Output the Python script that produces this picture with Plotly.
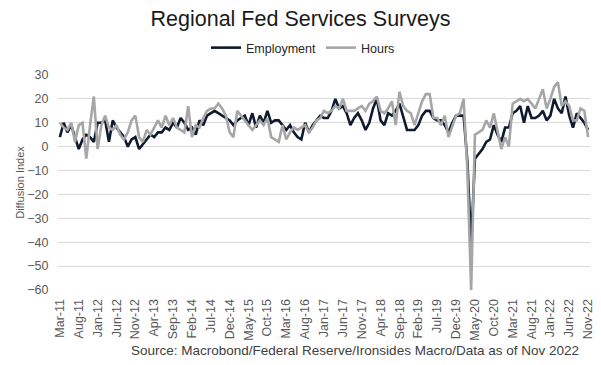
import plotly.graph_objects as go

months = []
mnames = ["Jan", "Feb", "Mar", "Apr", "May", "Jun", "Jul", "Aug", "Sep", "Oct", "Nov", "Dec"]
for k in range(141):
    m = (2 + k) % 12
    y = 11 + (2 + k) // 12
    months.append(f"{mnames[m]}-{y:02d}")

employment = [4, 10, 6, 9, 4, -1, 3, 5, 4, 2,
              10, 10, 11, 2, 11, 8, 6, 4, 0, 3,
              4, -1, 1, 3, 5, 4, 6, 6, 8, 7,
              10, 8, 12, 10, 7, 8, 5, 11, 9, 13,
              14, 15, 14, 13, 12, 11, 9, 11, 12, 13,
              9, 14, 8, 13, 10, 15, 10, 11, 11, 9,
              7, 9, 6, 4, 3, 10, 6, 9, 11, 13,
              12, 12, 15, 20, 16, 17, 14, 9, 12, 14,
              11, 7, 10, 16, 20, 11, 9, 14, 13, 15,
              18, 13, 7, 7, 7, 9, 13, 15, 15, 12,
              11, 11, 9, 6, 10, 13, 13, 13, -6, -41,
              -5, -3, -1, 2, 3, 9, 5, 2, 8, 8,
              14, 15, 17, 10, 17, 12, 12, 13, 15, 11,
              13, 20, 16, 14, 21, 13, 8, 14, 12, 10,
              7]

hours = [10, 8, 7, 10, 2, 9, 10, -5, 9, 21,
         -1, 9, 13, 8, 7, 9, 5, 3, 6, 11,
         13, 4, 2, 7, 5, 8, 11, 8, 13, 9,
         12, 8, 7, 6, 17, 4, 9, 8, 12, 15,
         16, 16, 18, 16, 13, 6, 4, 15, 13, 11,
         9, 7, 9, 11, 9, 12, 4, 3, 2, 9,
         3, 6, 8, 7, 8, 9, 6, 8, 11, 12,
         15, 14, 15, 17, 16, 20, 15, 15, 15, 16,
         17, 15, 18, 19, 21, 15, 14, 16, 19, 9,
         23, 17, 15, 14, 9, 14, 19, 22, 22, 12,
         12, 9, 13, 4, 9, 13, 14, 20, -10, -60,
         5, 6, 7, 11, 8, 14, 6, -1, 4, 0,
         18, 19, 20, 19, 20, 18, 16, 20, 24, 16,
         20, 25, 27, 17, 19, 17, 11, 11, 16, 15,
         4]

tick_idx = list(range(0, 141, 5))
tick_labels = [months[i] for i in tick_idx]
x = list(range(141))

FONT = "Liberation Sans, Arial, sans-serif"

fig = go.Figure()
fig.add_trace(go.Scatter(x=x, y=employment, name="Employment", mode="lines",
                         line=dict(color="#0f1a2e", width=2.6)))
fig.add_trace(go.Scatter(x=x, y=hours, name="Hours", mode="lines",
                         line=dict(color="#a6a6a6", width=2.6)))

fig.update_layout(
    width=601, height=365,
    margin=dict(l=58, r=11, t=75, b=75, autoexpand=False),
    paper_bgcolor="white", plot_bgcolor="white",
    font=dict(family=FONT, color="#595959", size=12),
    title=dict(text="Regional Fed Services Surveys", x=0.5, xanchor="center",
               y=1 - 18 / 365, yanchor="middle",
               font=dict(family=FONT, size=21.5, color="#1a1a1a")),
    legend=dict(orientation="h", x=(303 - 58) / 532, xanchor="center",
                y=(290 - 48) / 215, yanchor="middle",
                font=dict(family=FONT, size=12.5, color="#262626"),
                itemwidth=30, tracegroupgap=0, bgcolor="rgba(0,0,0,0)"),
    showlegend=True,
)
fig.update_xaxes(range=[-0.5, 140.5], tickmode="array", tickvals=tick_idx, ticktext=tick_labels,
                 tickangle=-90, showgrid=False, zeroline=False, showline=False,
                 ticks="outside", ticklen=3, tickcolor="rgba(0,0,0,0)", automargin=False,
                 tickfont=dict(family=FONT, size=12.5, color="#595959"))
fig.update_yaxes(range=[-60, 30], dtick=10, tick0=0, showgrid=True, gridcolor="#d9d9d9",
                 gridwidth=1, zeroline=False, showline=False, ticks="outside", ticklen=6,
                 tickcolor="rgba(0,0,0,0)", automargin=False,
                 tickfont=dict(family=FONT, size=12.5, color="#595959"),
                 title=dict(text="Diffusion Index", standoff=0,
                            font=dict(family=FONT, size=11, color="#595959")))
fig.add_annotation(text="Source: Macrobond/Federal Reserve/Ironsides Macro/Data as of Nov 2022",
                   xref="paper", yref="paper", x=(355 - 58) / 532, y=(290 - 350) / 215,
                   xanchor="center", yanchor="middle", showarrow=False,
                   font=dict(family=FONT, size=13.5, color="#404040"))

fig.write_html("out.html", config={"displayModeBar": False},
               post_script="document.body.style.margin='0';document.body.style.overflow='hidden';")
